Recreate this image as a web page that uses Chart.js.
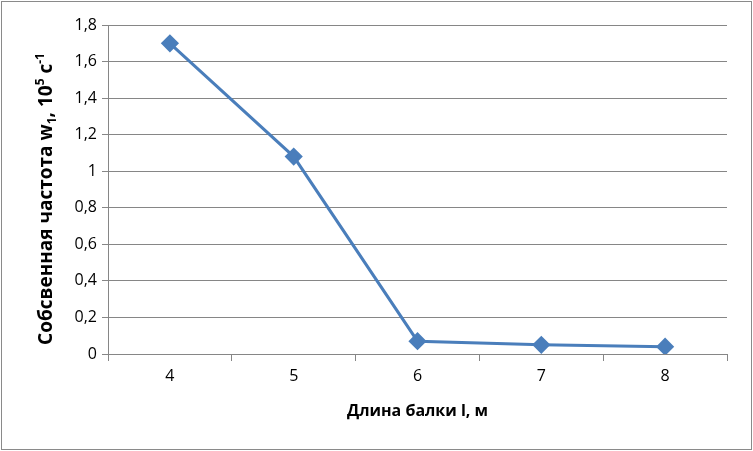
<!DOCTYPE html>
<html>
<head>
<meta charset="utf-8">
<script src="https://cdn.jsdelivr.net/npm/chart.js@4/dist/chart.umd.min.js"></script>
<style>
  body { margin: 0; background: #fff; }
  #wrap { width: 753px; height: 451px; }
</style>
</head>
<body>
<div id="wrap"><canvas id="chart" width="753" height="451"></canvas></div>
<script>
// Data
const beamLength = ['4', '5', '6', '7', '8'];
const frequency = [1.70, 1.08, 0.07, 0.05, 0.04];

const FONT = '"Open Sans", "DejaVu Sans", sans-serif';
const gridGray = '#868686';

// frame around the whole chart + rotated y title with sub/superscripts
const decor = {
    id: 'decor',
    beforeDraw(chart) {
        const ctx = chart.ctx;
        ctx.save();
        ctx.fillStyle = '#fff';
        ctx.fillRect(0, 0, chart.width, chart.height);
        ctx.restore();
    },
    afterDraw(chart) {
        const ctx = chart.ctx;
        ctx.save();
        ctx.strokeStyle = '#8a8a8a';
        ctx.lineWidth = 1;
        ctx.strokeRect(1.5, 1.5, chart.width - 3, chart.height - 3);

        // y title pieces: [text, size, baseline shift]
        const parts = [
            ['Собсвенная частота w', 19, 0],
            ['1', 12, 4],
            [', 10', 19, 0],
            ['5', 12, -8],
            [' с', 19, 0],
            ['-1', 12, -8]
        ];
        let total = 0;
        parts.forEach(p => {
            ctx.font = 'bold ' + p[1] + 'px ' + FONT;
            total += ctx.measureText(p[0]).width;
        });
        ctx.translate(45, 199);
        ctx.rotate(-Math.PI / 2);
        ctx.fillStyle = '#000';
        ctx.textBaseline = 'alphabetic';
        let x = -total / 2;
        parts.forEach(p => {
            ctx.font = 'bold ' + p[1] + 'px ' + FONT;
            ctx.fillText(p[0], x, 7 + p[2]);
            x += ctx.measureText(p[0]).width;
        });
        ctx.restore();
    }
};

new Chart(document.getElementById('chart'), {
    type: 'line',
    data: {
        labels: beamLength,
        datasets: [{
            data: frequency,
            borderColor: '#4a7ebb',
            backgroundColor: '#4a7ebb',
            borderWidth: 3,
            pointStyle: 'rectRot',
            pointRadius: 7,
            pointHoverRadius: 7,
            tension: 0
        }]
    },
    options: {
        responsive: false,
        animation: false,
        layout: { padding: { left: 0, top: 25, right: 26, bottom: 0 } },
        plugins: {
            legend: { display: false },
            tooltip: { enabled: false }
        },
        scales: {
            x: {
                offset: true,
                grid: {
                    offset: true,
                    drawOnChartArea: false,
                    drawTicks: true,
                    tickLength: 7,
                    color: gridGray
                },
                border: { color: gridGray },
                ticks: {
                    color: '#000',
                    padding: 6,
                    font: { family: FONT, size: 16 }
                },
                title: {
                    display: true,
                    text: 'Длина балки l, м',
                    color: '#000',
                    font: { family: FONT, size: 16, weight: 'bold' },
                    padding: { top: 10, bottom: 30 }
                },
                afterFit(scale) { scale.height = 97; }
            },
            y: {
                min: 0,
                max: 1.8,
                ticks: {
                    stepSize: 0.2,
                    color: '#000',
                    padding: 5,
                    font: { family: FONT, size: 16 },
                    callback: v => String(Math.round(v * 10) / 10).replace('.', ',')
                },
                grid: { color: gridGray, tickLength: 6 },
                border: { color: gridGray },
                afterFit(scale) { scale.width = 108; }
            }
        }
    },
    plugins: [decor]
});
</script>
</body>
</html>
